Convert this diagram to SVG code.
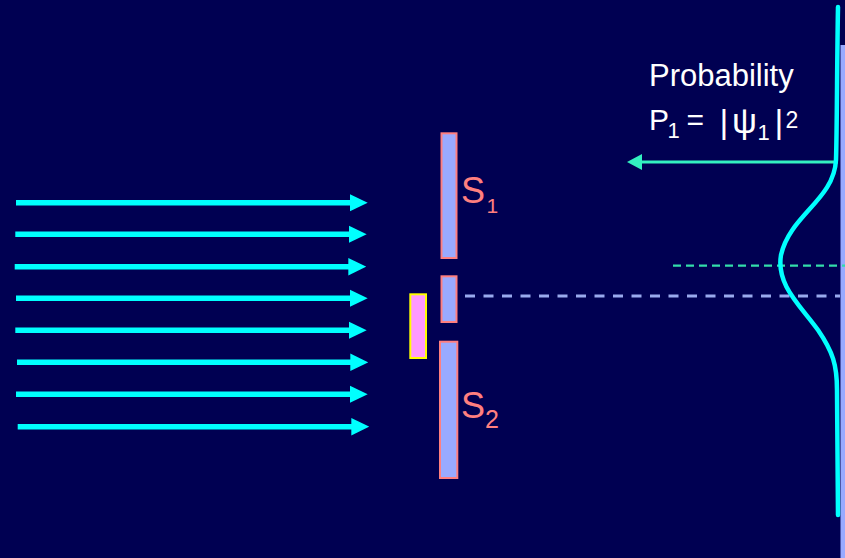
<svg xmlns="http://www.w3.org/2000/svg" width="845" height="558" viewBox="0 0 845 558">
<style>
.beam{stroke:#00ffff;stroke-width:5.5;fill:none}
.slit{fill:#99aaff;stroke:#ff7f7f;stroke-width:2}
.lbl{font-family:"Liberation Sans",Arial,sans-serif;fill:#ff7f7f}
.txt{font-family:"Liberation Sans",Arial,sans-serif;fill:#ffffff}
</style>
<defs>
<marker id="headC" markerUnits="userSpaceOnUse" markerWidth="18" markerHeight="18" refX="1" refY="8.7" orient="auto" viewBox="0 0 18 17.4">
<path d="M0,0 L18,8.7 L0,17.4 z" fill="#00ffff"/>
</marker>
<marker id="headG" markerUnits="userSpaceOnUse" markerWidth="16" markerHeight="16" refX="1" refY="8" orient="auto" viewBox="0 0 15 16">
<path d="M0,0 L15,8 L0,16 z" fill="#33f0c0"/>
</marker>
</defs>
<rect width="845" height="558" fill="#000052"/>
<g id="screen">
<rect x="840.5" y="45" width="4.5" height="513" fill="#99aaff"/>
</g>
<g id="connectors">
<line class="beam" x1="16" y1="202.7" x2="350.7" y2="202.7" marker-end="url(#headC)"/>
<line class="beam" x1="15.3" y1="234.3" x2="349.7" y2="234.3" marker-end="url(#headC)"/>
<line class="beam" x1="14.7" y1="266.7" x2="349.3" y2="266.7" marker-end="url(#headC)"/>
<line class="beam" x1="16" y1="298.3" x2="350.7" y2="298.3" marker-end="url(#headC)"/>
<line class="beam" x1="15.3" y1="330.3" x2="349.7" y2="330.3" marker-end="url(#headC)"/>
<line class="beam" x1="17" y1="362.3" x2="351.3" y2="362.3" marker-end="url(#headC)"/>
<line class="beam" x1="16" y1="394.3" x2="350.7" y2="394.3" marker-end="url(#headC)"/>
<line class="beam" x1="17.7" y1="426.7" x2="352.3" y2="426.7" marker-end="url(#headC)"/>
<line x1="465" y1="296" x2="840" y2="296" stroke="#99aaee" stroke-width="3" stroke-dasharray="10 8.5"/>
<line x1="673" y1="265.7" x2="845" y2="265.7" stroke="#33ddaa" stroke-width="2.2" stroke-dasharray="8 5"/>
<line x1="838" y1="162" x2="641" y2="162" stroke="#33f0c0" stroke-width="3" marker-end="url(#headG)"/>
</g>
<g id="wave">
<path d="M838,7 C837,60 837,130 836,160 C834,200 790,215 781,255 C776,285 800,305 818,330 C833,352 837,365 837,390 L838,515" fill="none" stroke="#00ffff" stroke-width="4.5" stroke-linecap="round"/>
</g>
<g id="slit-top">
<rect class="slit" x="441.5" y="133.3" width="15" height="124.7"/>
</g>
<g id="slit-middle">
<rect class="slit" x="441.5" y="276.3" width="15" height="45.7"/>
</g>
<g id="slit-bottom">
<rect class="slit" x="440" y="341.7" width="17.3" height="136.3"/>
</g>
<g id="detector">
<rect x="410.3" y="294.3" width="15.7" height="63.7" fill="#ff99ff" stroke="#ffff00" stroke-width="2"/>
</g>
<g id="label-s1">
<text class="lbl" x="461" y="202.5" font-size="36">S</text>
<text class="lbl" x="486.5" y="212.7" font-size="21">1</text>
</g>
<g id="label-s2">
<text class="lbl" x="461" y="418" font-size="36">S</text>
<text class="lbl" x="485" y="428.3" font-size="25">2</text>
</g>
<g id="probability-label">
<text class="txt" x="649" y="86" font-size="31">Probability</text>
<text class="txt" x="649" y="130" font-size="30">P</text>
<text class="txt" x="667.5" y="138.3" font-size="22">1</text>
<text class="txt" x="686.5" y="130" font-size="30">=</text>
<text class="txt" x="719.5" y="133" font-size="34">|</text>
<text class="txt" x="732" y="133" font-size="35">ψ</text>
<text class="txt" x="757.5" y="140" font-size="22">1</text>
<text class="txt" x="774.5" y="133" font-size="34">|</text>
<text class="txt" x="785.5" y="128.3" font-size="23">2</text>
</g>
</svg>
